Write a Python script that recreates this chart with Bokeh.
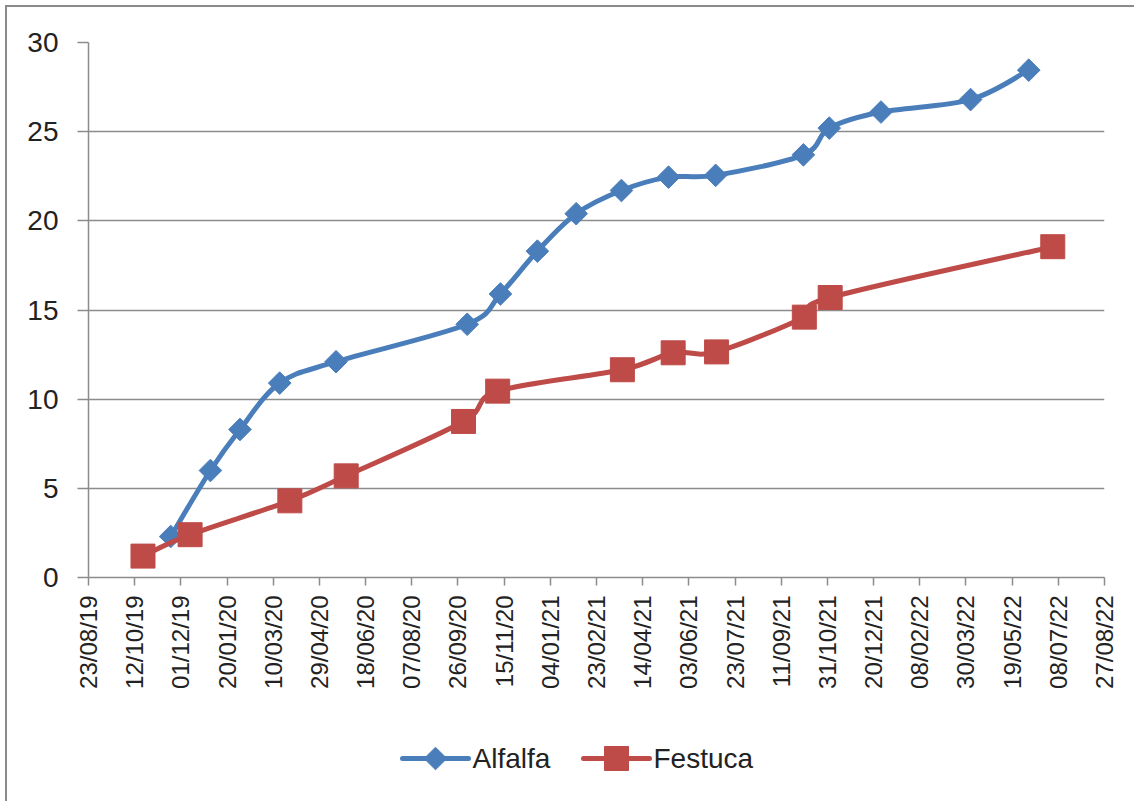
import math
import pandas as pd
from bokeh.plotting import figure
from bokeh.layouts import column
from bokeh.models import (Range1d, FixedTicker, DatetimeTickFormatter, ColumnDataSource)
from bokeh.core.properties import value
from bokeh.embed import file_html
from bokeh.resources import INLINE

# ---------------- data ----------------
tick_labels = ["23/08/19", "12/10/19", "01/12/19", "20/01/20", "10/03/20", "29/04/20",
               "18/06/20", "07/08/20", "26/09/20", "15/11/20", "04/01/21", "23/02/21",
               "14/04/21", "03/06/21", "23/07/21", "11/09/21", "31/10/21", "20/12/21",
               "08/02/22", "30/03/22", "19/05/22", "08/07/22", "27/08/22"]
y_ticks = [0, 5, 10, 15, 20, 25, 30]

series_names = ["Alfalfa", "Festuca"]

alfalfa_dates = ["2019-11-20", "2020-01-02", "2020-02-03", "2020-03-17", "2020-05-17",
                 "2020-10-06", "2020-11-11", "2020-12-21", "2021-02-01", "2021-03-22",
                 "2021-05-12", "2021-07-02", "2021-10-05", "2021-11-02", "2021-12-28",
                 "2022-04-04", "2022-06-06"]
alfalfa_values = [2.3, 6.0, 8.3, 10.9, 12.1, 14.2, 15.9, 18.3, 20.4, 21.7,
                  22.45, 22.55, 23.7, 25.2, 26.1, 26.8, 28.45]

festuca_dates = ["2019-10-21", "2019-12-11", "2020-03-28", "2020-05-28", "2020-10-02",
                 "2020-11-08", "2021-03-23", "2021-05-17", "2021-07-03", "2021-10-06",
                 "2021-11-03", "2022-07-02"]
festuca_values = [1.2, 2.4, 4.3, 5.7, 8.75, 10.45, 11.65, 12.6, 12.65, 14.6, 15.7, 18.55]

# ---------------- style ----------------
FONT = "Liberation Sans"
TXT = "#222222"
GRID = "#8c8c8c"
BLUE = "#4a7ebb"
RED = "#be4b48"
W = 1127

epoch = pd.Timestamp("1970-01-01")


def to_ms(strings, fmt=None):
    dt = pd.to_datetime(strings, format=fmt)
    return [float((t - epoch) // pd.Timedelta("1ms")) for t in dt]


tick_ms = to_ms(tick_labels, "%d/%m/%y")


def smooth_source(xs, ys):
    """Smoothed (Excel-like) line: cubic Bezier segments through the data points."""
    n = len(xs)
    px = [xs[0]] + list(xs) + [xs[-1]]
    py = [ys[0]] + list(ys) + [ys[-1]]
    d = dict(x0=[], y0=[], x1=[], y1=[], cx0=[], cy0=[], cx1=[], cy1=[])
    for i in range(1, n):
        a, b, c, e = i - 1, i, i + 1, i + 2
        d["x0"].append(px[b]); d["y0"].append(py[b])
        d["x1"].append(px[c]); d["y1"].append(py[c])
        d["cx0"].append(px[b] + (px[c] - px[a]) / 6.0)
        d["cy0"].append(py[b] + (py[c] - py[a]) / 6.0)
        d["cx1"].append(px[c] - (px[e] - px[b]) / 6.0)
        d["cy1"].append(py[c] - (py[e] - py[b]) / 6.0)
    return ColumnDataSource(d)


ax_ms = to_ms(alfalfa_dates)
fx_ms = to_ms(festuca_dates)
src_a = ColumnDataSource(dict(x=ax_ms, y=alfalfa_values))
src_f = ColumnDataSource(dict(x=fx_ms, y=festuca_values))

# ---------------- main chart ----------------
p = figure(width=W, height=713, x_axis_type="datetime",
           x_range=Range1d(tick_ms[0], tick_ms[-1]), y_range=Range1d(0, 30),
           output_backend="svg", toolbar_location=None,
           min_border_left=81, min_border_right=30, min_border_top=35,
           min_border_bottom=143)
p.outline_line_color = None
p.background_fill_color = "white"
p.border_fill_color = "white"

p.xaxis.ticker = FixedTicker(ticks=tick_ms)
fmt = "%d/%m/%y"
p.xaxis.formatter = DatetimeTickFormatter(milliseconds=fmt, seconds=fmt, minsec=fmt,
                                          minutes=fmt, hourmin=fmt, hours=fmt, days=fmt,
                                          months=fmt, years=fmt, context=None)
p.xaxis.major_label_orientation = math.pi / 2
p.yaxis.ticker = FixedTicker(ticks=y_ticks)

for ax in (p.xaxis, p.yaxis):
    ax.axis_line_color = GRID
    ax.axis_line_width = 1.5
    ax.major_tick_line_color = GRID
    ax.major_tick_line_width = 1.5
    ax.major_tick_in = 0
    ax.minor_tick_line_color = None
    ax.major_label_text_font = FONT
    ax.major_label_text_color = TXT

p.xaxis.major_tick_out = 8
p.xaxis.major_label_standoff = 10
p.xaxis.major_label_text_font_size = "24px"
p.yaxis.major_tick_out = 11
p.yaxis.major_label_standoff = 19
p.yaxis.major_label_text_font_size = "28px"

p.xgrid.grid_line_color = None
p.ygrid.ticker = FixedTicker(ticks=y_ticks)
p.ygrid.grid_line_color = GRID
p.ygrid.grid_line_width = 1.5

p.bezier(x0="x0", y0="y0", x1="x1", y1="y1", cx0="cx0", cy0="cy0", cx1="cx1", cy1="cy1",
         source=smooth_source(ax_ms, alfalfa_values), line_color=BLUE, line_width=5,
         line_cap="round")
p.scatter("x", "y", source=src_a, marker="square", angle=math.pi / 4, size=16,
          fill_color=BLUE, line_color=BLUE)
p.bezier(x0="x0", y0="y0", x1="x1", y1="y1", cx0="cx0", cy0="cy0", cx1="cx1", cy1="cy1",
         source=smooth_source(fx_ms, festuca_values), line_color=RED, line_width=5,
         line_cap="round")
p.scatter("x", "y", source=src_f, marker="square", size=24,
          fill_color=RED, line_color=RED)

# ---------------- legend strip (pixel units of the page) ----------------
LH = 81
lg = figure(width=W, height=LH, x_range=Range1d(88, 1104), y_range=Range1d(LH, 0),
            output_backend="svg", toolbar_location=None,
            min_border_left=81, min_border_right=30, min_border_top=0, min_border_bottom=0)
lg.axis.visible = False
lg.grid.visible = False
lg.outline_line_color = None
lg.background_fill_color = "white"
lg.border_fill_color = "white"

leg_x0 = [402, 583]          # start of each sample line (page pixels)
leg_len = 66
leg_y = 38
leg_colors = [BLUE, RED]
leg_markers = ["square", "square"]
leg_angles = [math.pi / 4, 0]
leg_sizes = [16, 24]

lg.segment(x0=leg_x0, y0=[leg_y] * 2, x1=[x + leg_len for x in leg_x0], y1=[leg_y] * 2,
           line_color=leg_colors, line_width=5, line_cap="round")
lg.scatter(x=[x + leg_len / 2 for x in leg_x0], y=[leg_y] * 2, marker=leg_markers,
           angle=leg_angles, size=leg_sizes, fill_color=leg_colors, line_color=leg_colors)
lg.text(x=[x + leg_len + 4 for x in leg_x0], y=[leg_y] * 2, text=series_names,
        text_font=value(FONT), text_font_size="28px", text_color=TXT,
        text_baseline="middle", text_align="left")

layout = column(p, lg, spacing=0,
                styles={"border-left": "2px solid #8a8a8a", "border-top": "2px solid #8a8a8a",
                        "margin-left": "5px", "margin-top": "5px"})

open("out.html", "w").write(file_html(layout, INLINE))
